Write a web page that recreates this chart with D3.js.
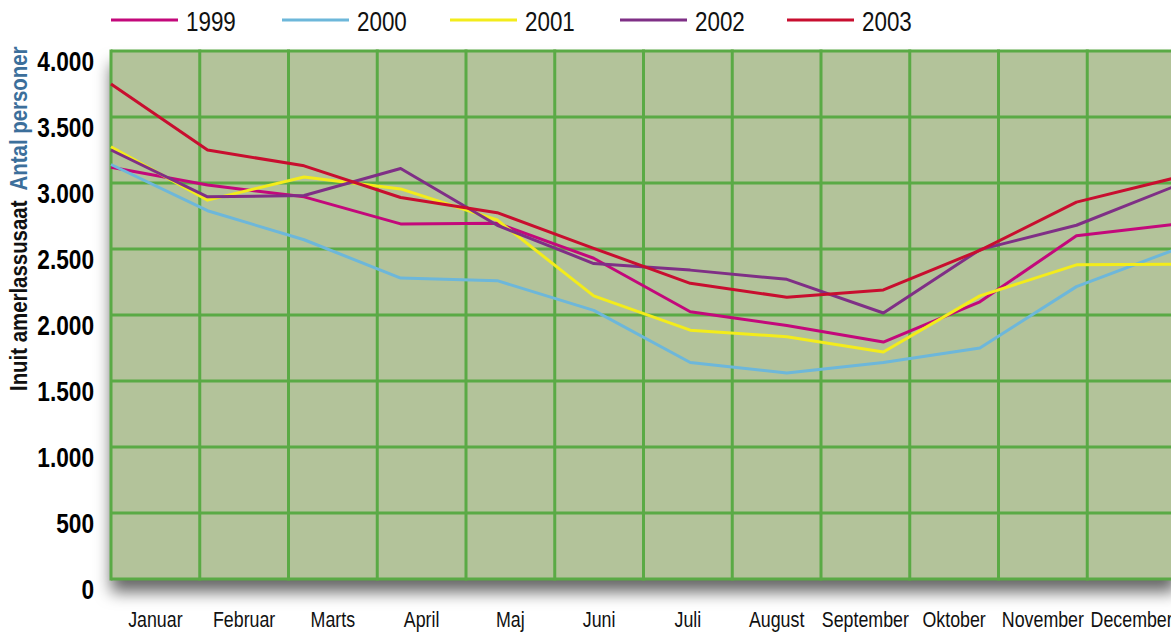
<!DOCTYPE html>
<html>
<head>
<meta charset="utf-8">
<script src="https://cdn.jsdelivr.net/npm/d3@7/dist/d3.min.js"></script>
<style>
  body { margin: 0; background: #fff; }
  svg { display: block; }
  text { font-family: 'Liberation Sans', Arial, sans-serif; }
</style>
</head>
<body>
<div id="chart"></div>
<script>
(function() {
    const months = ["Januar", "Februar", "Marts", "April", "Maj", "Juni", "Juli",
                    "August", "September", "Oktober", "November", "December"];
    const years = ["1999", "2000", "2001", "2002", "2003"];
    const colors = ["#c3087b", "#6db7da", "#f3ec1b", "#7f2f86", "#c80e2f"];

    const v1999 = [3120, 2985, 2895, 2690, 2695, 2430, 2025, 1920, 1795, 2100, 2600, 2685];
    const v2000 = [3140, 2790, 2570, 2280, 2260, 2035, 1640, 1560, 1640, 1750, 2215, 2490];
    const v2001 = [3275, 2870, 3045, 2955, 2720, 2145, 1885, 1835, 1720, 2145, 2380, 2385];
    const v2002 = [3250, 2895, 2905, 3110, 2680, 2390, 2340, 2270, 2015, 2495, 2680, 2970];
    const v2003 = [3750, 3250, 3130, 2890, 2775, 2505, 2240, 2135, 2190, 2490, 2855, 3035];
    const series = [v1999, v2000, v2001, v2002, v2003];

    const yTicks = [0, 500, 1000, 1500, 2000, 2500, 3000, 3500, 4000];

    const W = 1171, H = 632;
    const left = 111, top = 51, bottom = 579;
    const narrow = 0.81; // horizontal squeeze to mimic a condensed face

    const fmt = v => d3.format(",")(v).replace(/,/g, ".");

    const svg = d3.select("#chart").append("svg")
        .attr("width", W).attr("height", H);

    const defs = svg.append("defs");
    const f = defs.append("filter").attr("id", "shadow")
        .attr("x", "-5%").attr("y", "-10%").attr("width", "110%").attr("height", "125%");
    f.append("feDropShadow")
        .attr("dx", 0).attr("dy", 13).attr("stdDeviation", 8)
        .attr("flood-color", "#000").attr("flood-opacity", 0.6);

    // scales: grid/labels on bands, lines on points
    const xBand = d3.scaleBand().domain(months).range([left, 1176]);
    const xPoint = d3.scalePoint().domain(months).range([left, 1173]);
    const y = d3.scaleLinear().domain([0, 4000]).range([bottom, top]);

    // plot background with shadow
    svg.append("rect")
        .attr("x", left).attr("y", y(4000))
        .attr("width", 1176 - left).attr("height", y(0) - y(4000))
        .attr("fill", "#b3c39a")
        .attr("filter", "url(#shadow)");

    const grid = svg.append("g").attr("stroke", "#5aaa45").attr("stroke-width", 3);
    grid.selectAll("line.h").data(yTicks).join("line")
        .attr("x1", left).attr("x2", 1180)
        .attr("y1", d => y(d)).attr("y2", d => y(d));
    grid.selectAll("line.v").data(months.concat(["end"])).join("line")
        .attr("x1", (d, i) => i < 12 ? xBand(d) : xBand.range()[1])
        .attr("x2", (d, i) => i < 12 ? xBand(d) : xBand.range()[1])
        .attr("y1", y(4000) - 1.5).attr("y2", y(0) + 1.5);

    // lines
    const line = d3.line()
        .x((d, i) => xPoint(months[i]))
        .y(d => y(d));

    series.forEach((s, k) => {
        svg.append("path")
            .datum(s)
            .attr("d", line)
            .attr("fill", "none")
            .attr("stroke", colors[k])
            .attr("stroke-width", 3)
            .attr("stroke-linejoin", "round");
    });

    // y axis labels
    svg.append("g")
        .selectAll("text").data(yTicks).join("text")
        .attr("transform", d => `translate(94,${y(d) + 10}) scale(${narrow},1)`)
        .attr("dy", "0.35em")
        .attr("text-anchor", "end")
        .style("font-weight", "bold")
        .style("font-size", "28px")
        .attr("fill", "#000")
        .text(fmt);

    // x axis labels
    svg.append("g")
        .selectAll("text").data(months).join("text")
        .attr("transform", d => `translate(${xBand(d) + xBand.bandwidth() / 2},627) scale(${narrow},1)`)
        .attr("text-anchor", "middle")
        .style("font-size", "22px")
        .attr("fill", "#111")
        .text(d => d);

    // y axis title
    const title = svg.append("text")
        .attr("transform", "translate(27,391) rotate(-90) scale(0.85,1)")
        .style("font-weight", "bold")
        .style("font-size", "24px");
    title.append("tspan").attr("fill", "#111").text("Inuit amerlassusaat");
    title.append("tspan").attr("fill", "#3c6f9b").attr("dx", 12).text("Antal personer");

    // legend
    const legendX = [111, 282, 450, 620, 787];
    const lg = svg.append("g");
    years.forEach((yr, k) => {
        lg.append("line")
            .attr("x1", legendX[k]).attr("x2", legendX[k] + 67)
            .attr("y1", 20).attr("y2", 20)
            .attr("stroke", colors[k]).attr("stroke-width", 3);
        lg.append("text")
            .attr("transform", `translate(${legendX[k] + 75},31) scale(0.83,1)`)
            .style("font-size", "27px")
            .attr("fill", "#111")
            .text(yr);
    });
})();
</script>
</body>
</html>
